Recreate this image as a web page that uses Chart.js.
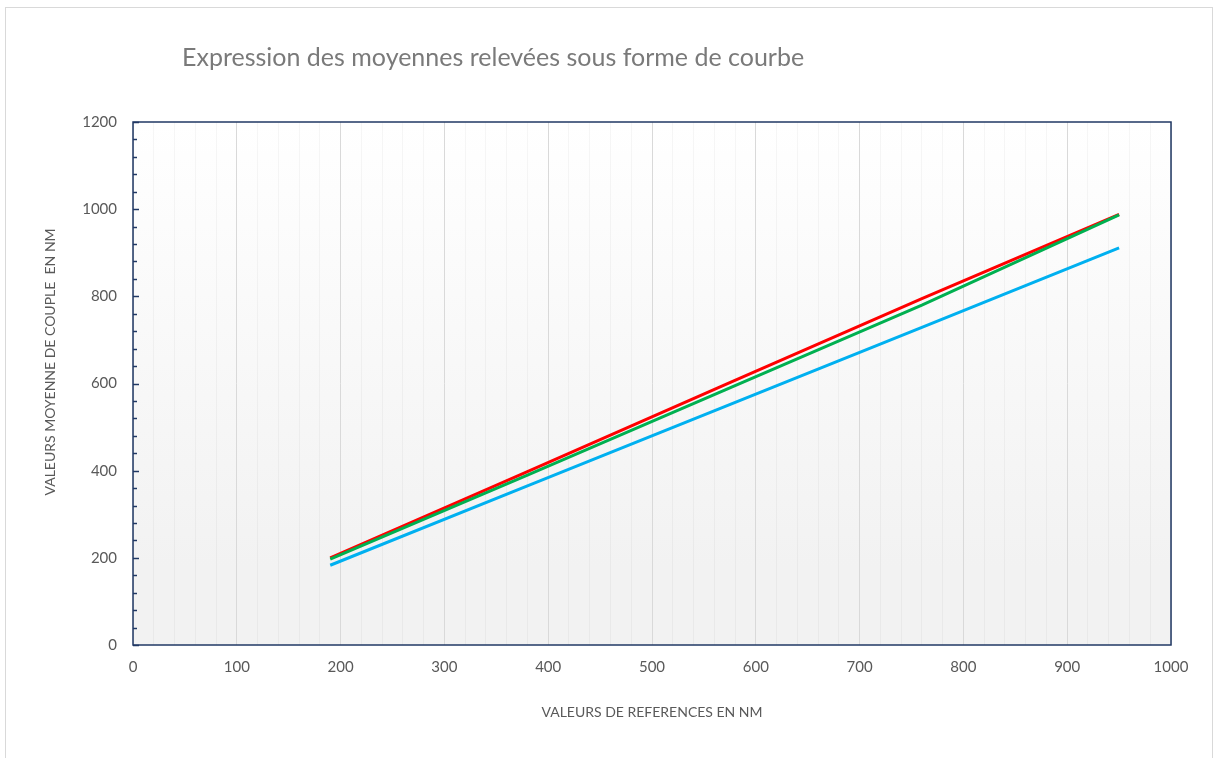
<!DOCTYPE html>
<html>
<head>
<meta charset="utf-8">
<script src="https://cdn.jsdelivr.net/npm/chart.js@4.4.1/dist/chart.umd.min.js"></script>
<style>
  html, body { margin: 0; padding: 0; background: #ffffff; }
  #chart { display: block; }
</style>
</head>
<body>
<canvas id="chart" width="1215" height="758"></canvas>
<script>
// reference values (NM) on the x axis
const references = [190, 380, 570, 760, 950];

// measured averages, one series per line
const serieRouge = [200, 398, 597, 795, 988];
const serieVerte = [197, 390, 585, 780, 987];
const serieBleue = [183, 365, 547, 729, 911];

const chartTitle = 'Expression des moyennes relevées sous forme de courbe';
const xTitle = 'VALEURS DE REFERENCES EN NM';
const yTitle = 'VALEURS MOYENNE DE COUPLE  EN NM';

const toPoints = (vals) => vals.map((v, i) => ({ x: references[i], y: v }));

// background, frame and titles drawn around the plot
const decor = {
    id: 'decor',
    beforeDraw(chart) {
        const { ctx, chartArea } = chart;
        ctx.save();
        // outer frame
        ctx.strokeStyle = '#d9d9d9';
        ctx.lineWidth = 1;
        ctx.strokeRect(5.5, 7.5, 1207, 760);
        // plot area gradient
        const grad = ctx.createLinearGradient(0, chartArea.top, 0, chartArea.bottom);
        grad.addColorStop(0, '#ffffff');
        grad.addColorStop(0.85, '#f2f2f2');
        grad.addColorStop(1, '#f2f2f2');
        ctx.fillStyle = grad;
        ctx.fillRect(chartArea.left, chartArea.top, chartArea.right - chartArea.left, chartArea.bottom - chartArea.top);
        // title
        ctx.fillStyle = '#7a7a7a';
        ctx.font = '25px Lato';
        ctx.textBaseline = 'middle';
        ctx.fillText(chartTitle, 182, 58);
        // y axis title
        ctx.fillStyle = '#595959';
        ctx.font = '14px Lato';
        ctx.textAlign = 'center';
        ctx.translate(50, 362);
        ctx.rotate(-Math.PI / 2);
        ctx.fillText(yTitle, 0, 0);
        ctx.restore();
    },
    afterDraw(chart) {
        const { ctx, chartArea } = chart;
        const y = chart.scales.y;
        ctx.save();
        ctx.strokeStyle = '#203864';
        ctx.lineWidth = 1.5;
        ctx.strokeRect(chartArea.left, chartArea.top, chartArea.right - chartArea.left, chartArea.bottom - chartArea.top);
        // inward tick marks on the y axis
        for (let v = 0; v <= 1200; v += 40) {
            const py = Math.round(y.getPixelForValue(v)) + 0.5;
            const len = v % 200 === 0 ? 6 : 4;
            ctx.beginPath();
            ctx.moveTo(chartArea.left, py);
            ctx.lineTo(chartArea.left + len, py);
            ctx.stroke();
        }
        ctx.restore();
    }
};

const lineStyle = (color) => ({
    borderColor: color,
    backgroundColor: color,
    borderWidth: 3,
    pointRadius: 0,
    tension: 0,
    fill: false,
});

new Chart(document.getElementById('chart'), {
    type: 'line',
    data: {
        datasets: [
            { label: 'Bleue', data: toPoints(serieBleue), ...lineStyle('#00b0f0') },
            { label: 'Verte', data: toPoints(serieVerte), ...lineStyle('#00b050') },
            { label: 'Rouge', data: toPoints(serieRouge), ...lineStyle('#ff0000') },
        ],
    },
    options: {
        responsive: false,
        animation: false,
        layout: { padding: { top: 122, right: 44, left: 0, bottom: 0 } },
        plugins: {
            legend: { display: false },
            tooltip: { enabled: false },
        },
        scales: {
            x: {
                type: 'linear',
                min: 0,
                max: 1000,
                ticks: {
                    stepSize: 20,
                    autoSkip: false,
                    maxRotation: 0,
                    color: '#595959',
                    font: { family: 'Lato', size: 15 },
                    padding: 13,
                    callback: (v) => (v % 100 === 0 ? String(v) : ''),
                },
                grid: {
                    color: (c) => (c.tick && c.tick.value % 100 === 0 ? '#d9d9d9' : 'rgba(0,0,0,0.035)'),
                    drawTicks: false,
                },
                border: { display: false },
                title: {
                    display: true,
                    text: xTitle,
                    color: '#595959',
                    font: { family: 'Lato', size: 14 },
                    padding: { top: 0, bottom: 37 },
                },
                afterFit: (scale) => { scale.height = 758 - 645; },
            },
            y: {
                type: 'linear',
                min: 0,
                max: 1200,
                ticks: {
                    stepSize: 200,
                    color: '#595959',
                    font: { family: 'Lato', size: 15 },
                    padding: 16,
                    callback: (v) => String(v),
                },
                grid: { display: false, drawTicks: false },
                border: { display: false },
                afterFit: (scale) => { scale.width = 133; },
            },
        },
    },
    plugins: [decor],
});
</script>
</body>
</html>
